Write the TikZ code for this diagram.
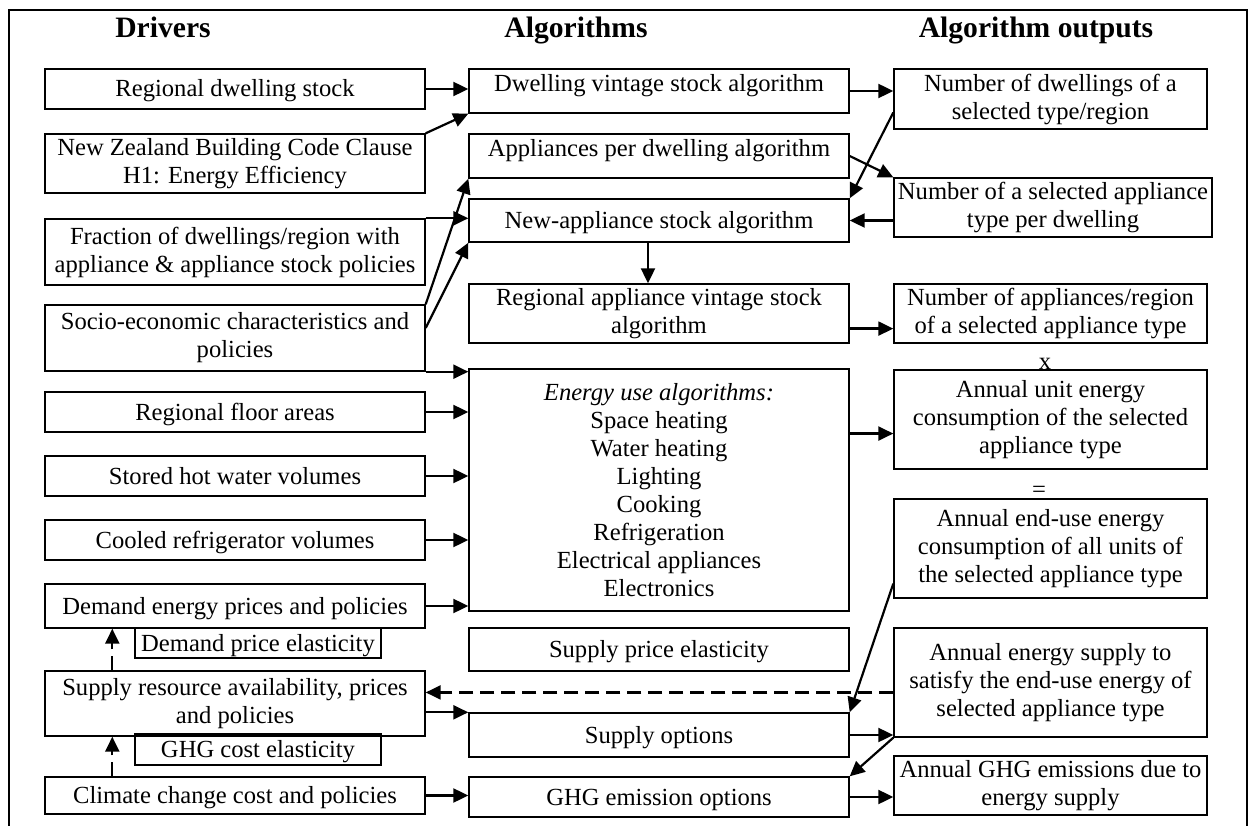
\documentclass[tikz,border=0pt]{standalone}
\usepackage{fontspec}
\setmainfont{Liberation Serif}
\usetikzlibrary{arrows.meta,calc}
\tikzset{
 box/.style={draw,line width=1.4pt,inner sep=0pt,align=center,font=\fontsize{24.6}{28}\selectfont},
 sl/.style={text height=16pt,text depth=0pt},
 slup/.style={text height=16pt,text depth=14pt},
 arr/.style={line width=2.2pt,-{Triangle[length=15pt,width=14pt]}},
 darr/.style={arr,dash pattern=on 14pt off 7pt},
 ttl/.style={font=\fontsize{29.6}{34}\selectfont\bfseries,anchor=base,inner sep=0pt},
 sym/.style={font=\fontsize{24.6}{28}\selectfont,inner sep=0pt},
}
\newcommand\bx[7][]{\node[box,#1,minimum width={(#5-#3)*1pt},minimum height={(#6-#4)*1pt}] (#2) at ({(#3+#5)/2},{(#4+#6)/2}) {#7};}
\begin{document}
\begin{tikzpicture}[x=1pt,y=-1pt]
\useasboundingbox (0,0) rectangle (1248,826);
\draw[line width=2.5pt] (9,830) -- (9,10) -- (1247,10) -- (1247,830);
% titles
\node[ttl] (t1) at (163,38) {Drivers};
\node[ttl] (t2) at (576,38) {Algorithms};
\node[ttl] (t3) at (1036,38) {Algorithm outputs};
% left column
\bx[sl]{rds}{45}{69}{425}{109}{Regional dwelling stock}
\bx{nzbc}{45}{134}{425}{193}{New Zealand Building Code Clause\\H1: Energy Efficiency}
\bx{frac}{45}{219}{425}{285}{Fraction of dwellings/region with\\appliance \& appliance stock policies}
\bx{socio}{45}{305}{425}{371}{Socio-economic characteristics and\\policies}
\bx[sl]{floor}{45}{392}{425}{432}{Regional floor areas}
\bx[sl]{hotw}{45}{456}{425}{496}{Stored hot water volumes}
\bx[sl]{cool}{45}{520}{425}{560}{Cooled refrigerator volumes}
\bx[sl]{dem}{45}{584}{425}{628}{Demand energy prices and policies}
\bx[sl]{dpe}{135}{628}{381}{658}{Demand price elasticity}
\bx{sup}{45}{671}{425}{736}{Supply resource availability, prices\\and policies}
\bx[sl]{gce}{135}{734}{381}{765}{GHG cost elasticity}
\bx[sl]{clim}{45}{777}{425}{814}{Climate change cost and policies}
% middle column
\bx[slup]{dvs}{469}{69}{849}{113}{Dwelling vintage stock algorithm}
\bx[slup]{apd}{469}{134}{849}{178}{Appliances per dwelling algorithm}
\bx[sl]{nas}{469}{199}{849}{242}{New-appliance stock algorithm}
\bx{ravs}{469}{284}{849}{343}{Regional appliance vintage stock\\algorithm}
\bx{eua}{469}{369}{849}{611}{\textit{Energy use algorithms:}\\Space heating\\Water heating\\Lighting\\Cooking\\Refrigeration\\Electrical appliances\\Electronics}
\bx[sl]{spe}{469}{628}{849}{671}{Supply price elasticity}
\bx[sl]{so}{469}{713}{849}{757}{Supply options}
\bx[sl]{ghgo}{469}{777}{849}{817}{GHG emission options}
% right column
\bx{nd}{894}{69}{1207}{129}{Number of dwellings of a\\selected type/region}
\bx{nsa}{894}{178}{1212}{237}{Number of a selected appliance\\type per dwelling}
\bx{nar}{894}{284}{1207}{343}{Number of appliances/region\\of a selected appliance type}
\bx{aue}{894}{370}{1207}{469}{Annual unit energy\\consumption of the selected\\appliance type}
\bx{aeu}{894}{499}{1207}{598}{Annual end-use energy\\consumption of all units of\\the selected appliance type}
\bx{aes}{894}{628}{1207}{737}{Annual energy supply to\\satisfy the end-use energy of\\selected appliance type}
\bx{ghge}{894}{756}{1207}{815}{Annual GHG emissions due to\\energy supply}
\node[sym,anchor=base] (xop) at (1045,370) {x};
\node[sym] (eqop) at (1039,492) {=};
% connectors left -> middle
\draw[arr] (rds.east) -- (rds.east -| dvs.west);
\draw[arr] (nzbc.north east) -- (dvs.south west);
\draw[arr] (frac.north east) -- (frac.north east -| nas.west);
\draw[arr] (socio.north east) -- (apd.south west);
\draw[arr] ($(socio.north east)!0.35!(socio.south east)$) -- (nas.south west);
\draw[arr] (socio.south east) -- (socio.south east -| eua.west);
\draw[arr] (floor.east) -- (floor.east -| eua.west);
\draw[arr] (hotw.east) -- (hotw.east -| eua.west);
\draw[arr] (cool.east) -- (cool.east -| eua.west);
\draw[arr] (dem.east) -- (dem.east -| eua.west);
\draw[arr] (so.north west -| sup.east) -- (so.north west);
\draw[arr] (clim.east) -- (clim.east -| ghgo.west);
% middle <-> right
\draw[arr] (dvs.east) -- (dvs.east -| nd.west);
\draw[arr] ($(nd.north west)!0.72!(nd.south west)$) -- (nas.north east);
\draw[arr] (apd.east) -- (nsa.north west);
\draw[arr] (nas.east -| nsa.west) -- (nas.east);
\draw[arr] ([xshift=-11pt]nas.south) -- ([xshift=-11pt]ravs.north);
\coordinate (c18) at ($(ravs.north east)!0.75!(ravs.south east)$);
\draw[arr] (c18) -- (c18 -| nar.west);
\coordinate (c19) at ($(aue.north west)!0.64!(aue.south west)$);
\draw[arr] (c19 -| eua.east) -- (c19);
\draw[arr] ($(aeu.north west)!0.85!(aeu.south west)$) -- (so.north east);
\coordinate (c21) at ($(aes.north west)!0.59!(aes.south west)$);
\draw[darr] (c21) -- (c21 -| sup.east);
\draw[arr] (so.east) -- (so.east -| aes.west);
\draw[arr] (aes.south west) -- (ghgo.north east);
\draw[arr] (ghgo.east) -- (ghgo.east -| ghge.west);
% dashed vertical arrows
\draw[darr] ($(sup.north west)+(68,0)$) -- ($(dem.south west)+(68,0)$);
\draw[darr] ($(clim.north west)+(68,0)$) -- ($(sup.south west)+(68,0)$);
\end{tikzpicture}
\end{document}
